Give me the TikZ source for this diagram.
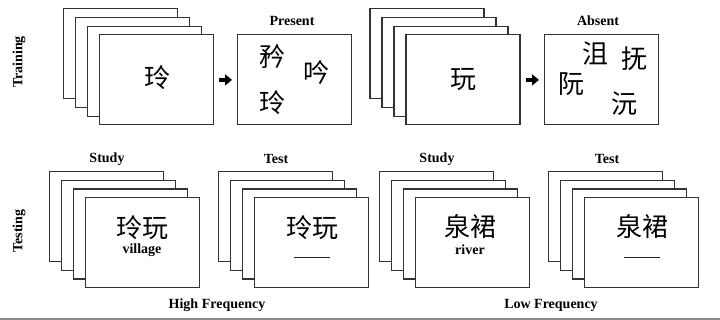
\documentclass[tikz,border=0pt]{standalone}
\usepackage{fontspec}
\setmainfont{Liberation Serif}
\newfontfamily\cjk{Noto Sans CJK SC}
\usetikzlibrary{arrows.meta}
\tikzset{
  card/.style={draw=black!80, line width=1.2pt, fill=white, minimum width=114pt, minimum height=90pt, anchor=north west, inner sep=0pt},
  lab/.style={font=\fontsize{14}{16}\selectfont\bfseries, inner sep=0pt},
  zi/.style={font=\cjk\fontsize{26}{28}\selectfont, inner sep=0pt},
  bigarrow/.style={line width=3.4pt, -{Triangle[length=7pt,width=11pt]}},
  blank/.style={line width=0.9pt, draw=black!85},
}
\newcommand\cardstack[3]{%
  \node[card] (#1-1) at (#2,#3) {};
  \node[card] (#1-2) at (#2+12,#3+8.67) {};
  \node[card] (#1-3) at (#2+24,#3+17.33) {};
  \node[card] (#1) at (#2+36,#3+26) {};
}
\begin{document}
\begin{tikzpicture}[x=1pt,y=-1pt]
\useasboundingbox (0,0) rectangle (720,320);

% side labels
\node[lab, rotate=90] (training) at (19,62) {Training};
\node[lab, rotate=90] (testing) at (19,231) {Testing};

% ---------- Training row ----------
\cardstack{tl}{62.7}{8.3}
\node[zi] (tlchar) at (157,78) {玲};
\node[card] (present) at (237,33.7) {};
\node[lab] (presentlab) at (292,21) {Present};
\node[zi] (p1) at (272,57) {矜};
\node[zi] (p2) at (316,72) {吟};
\node[zi] (p3) at (272,103) {玲};
\draw[bigarrow, shorten <=5pt, shorten >=5pt] (tl.east) -- (tl.east -| present.west);

\cardstack{tr}{369.3}{8.3}
\node[zi] (trchar) at (463,80) {玩};
\node[card] (absent) at (544,33.7) {};
\node[lab] (absentlab) at (598,21) {Absent};
\node[zi] (a1) at (595,54) {沮};
\node[zi] (a2) at (634,59) {抚};
\node[zi] (a3) at (571,84) {阮};
\node[zi] (a4) at (624,104) {沅};
\draw[bigarrow, shorten <=5pt, shorten >=5pt] (tr.east) -- (tr.east -| absent.west);

% ---------- Testing row ----------
\node[lab] (study1) at (107,159) {Study};
\node[lab] (test1) at (276,159) {Test};
\node[lab] (study2) at (437,159) {Study};
\node[lab] (test2) at (607,159) {Test};

\cardstack{hs}{49}{171}
\node[zi] (hschar) at (142,228) {玲玩};
\node[lab] (village) at (142,250) {village};

\cardstack{ht}{218}{171}
\node[zi] (htchar) at (312,228) {玲玩};
\coordinate (htl) at (294,257.3);
\coordinate (htr) at (330,257.3);
\draw[blank] (htl) -- (htr);

\cardstack{ls}{379}{171}
\node[zi] (lschar) at (470,227) {泉裙};
\node[lab] (river) at (470,250) {river};

\cardstack{lt}{548}{171}
\node[zi] (ltchar) at (642,227) {泉裙};
\coordinate (ltl) at (624,257.3);
\coordinate (ltr) at (660,257.3);
\draw[blank] (ltl) -- (ltr);

\node[lab] (hf) at (217,305) {High Frequency};
\node[lab] (lf) at (551,305) {Low Frequency};

% bottom frame line
\coordinate (bl) at (0,319);
\coordinate (br) at (720,319);
\draw[black!45, line width=1.2pt] (bl) -- (br);
\end{tikzpicture}
\end{document}
